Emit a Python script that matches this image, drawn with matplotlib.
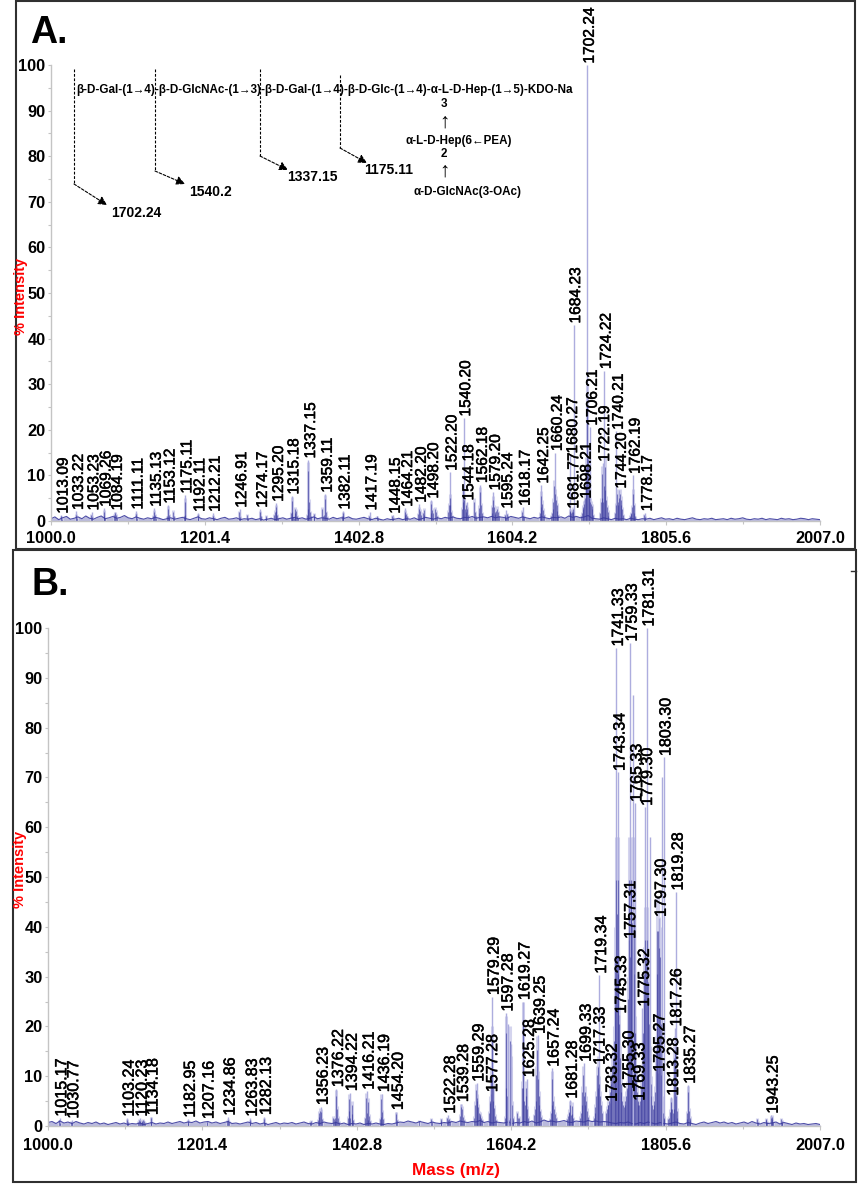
import matplotlib
matplotlib.use("Agg")
import matplotlib.pyplot as plt
import matplotlib.patheffects as pe
import numpy as np
from matplotlib.patches import Rectangle

plt.rcParams['font.family'] = ['Liberation Sans', 'DejaVu Sans']

W, H = 867, 1200

x_ticks = [1000.0, 1201.4, 1402.8, 1604.2, 1805.6, 2007.0]
y_ticks = [0, 10, 20, 30, 40, 50, 60, 70, 80, 90, 100]

# panel A: labelled peaks
a_mass = [1013.09, 1033.22, 1053.23, 1069.26, 1084.19, 1111.11, 1135.13, 1153.12, 1175.11, 1192.11,
          1212.21, 1246.91, 1274.17, 1295.20, 1315.18, 1337.15, 1359.11, 1382.11, 1417.19, 1448.15,
          1464.21, 1482.20, 1498.20, 1522.20, 1540.20, 1544.18, 1562.18, 1579.20, 1595.24, 1618.17,
          1642.25, 1660.24, 1680.27, 1681.77, 1684.23, 1698.21, 1702.24, 1706.21, 1722.19, 1724.22,
          1740.21, 1744.20, 1762.19, 1778.17]
a_height = [1.3, 2.1, 2.0, 2.8, 2.0, 2.2, 2.8, 3.5, 5.7, 1.7,
            1.7, 2.6, 2.6, 3.9, 5.5, 13.4, 5.9, 2.2, 2.0, 1.3,
            2.8, 3.7, 4.6, 10.7, 22.6, 4.2, 8.0, 6.4, 2.4, 3.0,
            7.9, 15.0, 14.5, 2.4, 43.0, 4.6, 100.0, 20.6, 12.7, 33.0,
            19.7, 6.8, 10.0, 1.8]

# panel A: unresolved signal around the peaks, first mass and heights at 1 m/z steps
a_cluster_start = [1013, 1033, 1053, 1069, 1083, 1111, 1134, 1152, 1160, 1174, 1192, 1212, 1246, 1257,
                   1274, 1281, 1292, 1314, 1319, 1335, 1344, 1355, 1358, 1381, 1417, 1427, 1447, 1463,
                   1481, 1487, 1497, 1503, 1520, 1538, 1554, 1560, 1577, 1594, 1617, 1640, 1655, 1679,
                   1694, 1719, 1739, 1758, 1777]
a_cluster_height = [[1.2, .6], [1.6, .8], [1.6, 1.0], [2.4, 1.2, .7], [1.5, 2, 1.6, .9], [1.8, .9],
                    [1.4, 2.4, 1.6, .8], [1.2, 3.2, 1.6, .8], [2.4, 1.2], [1.2, 5, 1.5], [1.5, .8],
                    [1.4, .8], [2.2, 1], [1.6, .7], [2.2, 1.2], [1.4, .7], [1.6, 2.4, 3.6, 2.6, 1.6, .8],
                    [2, 5.2, 2.4, 1, .8], [2, 3, 2.6, 1.4, .8], [1.5, 3, 13, 4.8, 2.2, 1.2], [1.8, 1],
                    [3, 1.4], [1.6, 5.6, 2.2, 1], [1.2, 2, 1.2], [1.4, .8], [1.2, .7], [1.3, .8],
                    [1.6, 2.4, 1.8, 1.2], [1.8, 3.0, 2.6, 1.6], [2, 2.8, 1.6], [2, 4.4, 2.8, 2],
                    [3, 2.4, 1.4], [2.4, 4, 6, 4, 2.4, 1.4], [3, 5, 8, 5.5, 3, 2.2, 4, 3, 1.6],
                    [5, 2.2, 1.2], [2, 3.4, 7.5, 4, 2, 1.2], [2, 3.5, 5.5, 3.5, 2.4, 1.8, 2.6, 3.2, 2.2, 1.2],
                    [1.6, 1, .8, 1.8, 1.2], [2.4, 1.4, 1], [2, 3.6, 6.5, 4.5, 2.8, 1.6],
                    [1.4, 2, 3, 5, 9, 7, 5.5, 4, 2.6, 1.6], [2.2, 2.6, 2.0, 2.4, 3.0, 2.2, 1.4],
                    [1.4, 2, 3, 3.6, 4.4, 6, 9, 14, 30, 16, 9, 6, 5, 4.4, 3.8, 3, 1.6],
                    [2, 5, 12, 6, 5, 9, 14, 8, 5.5, 3.6, 2.4, 1.4], [2, 4, 7, 5, 4, 6, 7, 5.5, 4.2, 3, 1.6],
                    [1.4, 2, 1.8, 3.5, 7, 4, 2, 1.2], [1.6, 1]]

# panel A: baseline, evenly spread over the mass range
a_noise = [.5, .9, .3, .7, 1.0, .4, .6, .9, .5, 1.1, .6, .4, .8, 1.1, .5, .7, 1.0, .6, .8, 1.2,
           .7, .5, .9, .6, .4, .7, .5, .8, .6, .3, .5, .7, .4, .6, .8, .5, .3, .6, .9, .5,
           .4, .7, .5, .3, .6, .8, .4, .5, .7, .3, .5, .4, .6, .3, .5, .2, .4, .6, .3, .5,
           .7, .4, .6, .8, .5, .7, .4, .6, .9, .5, .7, .6, .4, .8, .5, .7, .6, .9, .5, .4,
           .6, .8, .5, .3, .6, .4, .2, .5, .3, .4, .6, .3, .5, .4, .7, .3, .5, .8, .6, .4,
           .7, .5, .8, .6, .9, .6, .5, .8, .7, 1.0, .6, .8, .9, .7, 1.0, .7, .9, .8, .6, 1.0,
           .8, .6, .9, .7, .5, .8, .6, .9, .7, .5, .8, .7, .9, .6, 1.1, .8, 1.0, .7, .9, 1.2,
           .6, .5, .4, .7, .5, .3, .6, .4, .5, .3, .6, .4, .3, .5, .4, .6, .3, .5, .7, .4,
           .5, .3, .6, .4, .3, .5, .7, .4, .3, .5, .4, .6, .3, .4, .5, .3, .6, .4, .5, .7,
           .4, .3, .5, .4, .6, .3, .5, .4, .3, .6, .4, .5, .3, .4, .6, .5, .3, .5, .4, .3]

# panel B: labelled peaks
b_mass = [1015.17, 1030.77, 1103.24, 1120.23, 1134.18, 1182.95, 1207.16, 1234.86, 1263.83, 1282.13,
          1356.23, 1376.22, 1394.22, 1416.21, 1436.19, 1454.20, 1522.28, 1539.28, 1559.29, 1577.28,
          1579.29, 1597.28, 1619.27, 1625.28, 1639.25, 1657.24, 1681.28, 1699.33, 1717.33, 1719.34,
          1733.32, 1741.33, 1743.34, 1745.33, 1755.30, 1757.31, 1759.33, 1765.33, 1769.33, 1775.32,
          1779.30, 1781.31, 1795.27, 1797.30, 1803.30, 1813.28, 1817.26, 1819.28, 1835.27, 1943.25]
b_height = [1.6, 1.2, 1.6, 1.6, 1.9, 1.4, 1.1, 1.8, 1.6, 1.9,
            3.9, 7.5, 6.7, 7.0, 6.5, 2.9, 2.2, 4.5, 8.6, 6.5,
            26.0, 22.7, 25.0, 9.5, 18.2, 11.6, 5.2, 12.6, 12.0, 30.3,
            4.6, 96.0, 71.0, 22.3, 7.2, 37.3, 97.0, 64.8, 4.8, 23.7,
            64.0, 100.0, 10.6, 41.7, 74.0, 5.8, 19.7, 47.0, 8.2, 2.2]

# panel B: tall peaks without a label
b_extra_mass = [1600, 1604, 1763, 1785, 1801]
b_extra_height = [20.5, 16.5, 86.5, 58.0, 70.0]

b_cluster_start = [1015, 1030, 1103, 1118, 1134, 1182, 1207, 1234, 1263, 1282, 1342, 1352, 1372, 1375,
                   1391, 1396, 1414, 1418, 1433, 1454, 1484, 1500, 1512, 1521, 1538, 1556, 1575, 1596,
                   1612, 1618, 1634, 1655, 1677, 1694, 1712, 1728, 1752, 1775, 1809, 1812, 1833, 1925,
                   1936, 1943, 1956]
b_cluster_height = [[1.3, .8], [1, .7], [1.4, .9], [1, 1.5, 1.2, .8, 1.0, 1.2, 1.4, 1.1, .8], [1.8, 1],
                    [1.2, .8], [.9], [1.2, 1.5, 1], [1.3, .8], [1.6, .8], [1, 1.2],
                    [1.4, 2.2, 3.0, 3.6, 3.4, 1.6], [2, 1.6, 1.2], [2, 7.2, 4, 2, 1], [2, 6.4, 3.6, 1.8],
                    [5, 2.8, 1.4], [1.8, 6.6, 3, 1.4], [5.6, 2.4, 1.2], [1.6, 2.2, 6.4, 3.2, 1.6],
                    [2.8, 1.4], [1.2], [1.6, 1], [1.6, 1.2], [1.8, 1.4, 1.6, 1.2], [2.4, 4.4, 4, 2.2, 1.4],
                    [2, 5, 8.4, 6.5, 6, 4.5, 3, 2.4, 2.8, 2, 1.4], [3, 6, 5.5, 12, 20, 9, 6, 4.2, 2.4, 1.4],
                    [2, 9, 22, 7, 2.2, 1.4, 2, 20, 14, 5, 2, 1.4], [3, 1.8, 2],
                    [9, 25, 9, 6, 5, 9, 7, 4, 2], [2.5, 4, 6, 12, 18, 11, 7, 5, 3.5, 2.2],
                    [1.6, 3, 5, 11, 6, 4, 2.8, 1.8], [1.6, 2.4, 3.4, 3, 5, 2.6, 4.8, 2.8, 1.8],
                    [2, 3, 5, 8, 12, 7, 5, 8, 6, 3.6, 2.2], [2, 3, 4.5, 7, 12, 9, 14, 10, 7, 5, 3],
                    [3, 4, 5, 5, 6, 8, 10, 12, 14, 16, 20, 28, 40, 58, 50, 58, 36, 24, 16, 10, 8, 6, 5, 4.5],
                    [5, 6, 7, 9, 14, 30, 58, 40, 56, 58, 48, 58, 50, 36, 22, 12, 8, 6, 5, 5, 6, 7, 9],
                    [12, 22, 30, 36, 44, 40, 44, 30, 34, 24, 16, 10, 7, 5, 4, 5, 6, 8, 18, 36, 46, 46, 42,
                     40, 24, 12, 6, 3, 2, 1.6],
                    [1.6, 2, 3.4], [4, 5.6, 4, 3, 4, 16, 18, 7, 3.6, 2], [1.6, 3, 8, 3.6, 2, 1.4], [1.6, 1],
                    [1.4, 1.6, 1], [2, 2.2, 1.6, 1], [1.6, 1.2, .8]]

b_noise = [.7, .9, .5, 1.0, .6, .8, .5, .9, .6, .4, .7, .5, .8, .4, .6, .3, .5, .7, .4, .6,
           .3, .5, .4, .6, .3, .5, .7, .4, .6, .5, .8, .5, .7, .9, .6, .8, .7, 1.0, .6, .8,
           .9, .6, .8, .5, .7, .9, .5, .6, .4, .6, .8, .5, .7, .4, .6, .3, .5, .7, .4, .6,
           .5, .7, .4, .6, .8, .5, .4, .7, .5, .8, .6, .5, .7, .4, .6, .3, .5, .4, .6, .3,
           .5, .4, .6, .4, .3, .5, .4, .6, .8, .7, 1.0, .8, .6, .9, .7, .5, .8, .6, .5, .7,
           .6, .9, .7, 1.0, .8, .7, .9, .8, 1.1, .7, .9, .6, .8, .7, .6, .8, .5, .7, .6, .9,
           .7, 1.0, .6, .8, 1.2, .9, 1.0, .8, .9, 1.1, .8, .7, 1.0, .9, .8, 1.1, .9, 1.0, .8, .9,
           .8, .6, .5, .7, .6, .8, .5, .4, .7, .5, .8, .6, .4, .7, .5, .4, .6, .8, .5, .4,
           .7, .5, .3, .6, .8, .5, .7, .9, .6, .8, .5, .7, .4, .6, .8, .5, .9, .6, .4, .7,
           .5, .6, .8, .4, .7, .5, .3, .6, .4, .5, .3, .4, .5, .3]

DARK = '#3b3b9e'
LIGHT = '#adadde'
HALO = '#d4d4ee'
GREY = '#c4c4c4'
heavy = [pe.withStroke(linewidth=0.35, foreground='black')]


def px_axes(fig, left, right, top, bottom):
    return fig.add_axes([left / W, 1 - bottom / H, (right - left) / W, (bottom - top) / H])


def draw_panel(ax, mass, height, starts, clusters, noise, label_size, xpad):
    ax.set_xlim(1000, 2007)
    ax.set_ylim(0, 100)
    ax.patch.set_alpha(0)
    fine_m, fine_h = [], []
    for s, c in zip(starts, clusters):
        for i, h in enumerate(c):
            fine_m.append(s + i)
            fine_h.append(h)
    ax.vlines(fine_m, 0, fine_h, color=HALO, lw=2.2)
    ax.vlines(mass, 0, height, color=LIGHT, lw=1.0)
    ax.vlines(fine_m, 0, np.array(fine_h) * 0.85, color=DARK, lw=0.8, alpha=0.6)
    noise_m = np.linspace(1000, 2007, len(noise))
    ax.fill_between(noise_m, 0, noise, color=DARK, alpha=0.35, lw=0)
    ax.plot(noise_m, noise, color=DARK, lw=0.8, alpha=0.9)
    for m, h in zip(mass, height):
        ax.annotate(f'{m:.2f}', (m, h), xytext=(1.5, 1), textcoords='offset points', rotation=90,
                    ha='center', va='bottom', fontsize=label_size, color='black', annotation_clip=False,
                    path_effects=heavy)
    for side in ['top', 'right']:
        ax.spines[side].set_visible(False)
    for side in ['left', 'bottom']:
        ax.spines[side].set_color(GREY)
        ax.spines[side].set_linewidth(1.0)
    ax.set_xticks(x_ticks)
    ax.set_xticklabels([f'{t:.1f}' for t in x_ticks], fontweight='bold', fontsize=11.8)
    ax.set_yticks(y_ticks)
    ax.set_yticklabels([str(t) for t in y_ticks], fontweight='bold', fontsize=11.8)
    ax.set_xticks(np.array(x_ticks[:-1]) + 100.7, minor=True)
    ax.set_yticks(np.array(y_ticks[:-1]) + 5, minor=True)
    ax.tick_params(axis='x', which='major', length=3, width=0.8, color=GREY, pad=xpad)
    ax.tick_params(axis='y', which='major', length=2.5, width=0.8, color=GREY, pad=1.5)
    ax.tick_params(which='minor', length=2, width=0.8, color=GREY)


fig = plt.figure(figsize=(W / 100, H / 100), dpi=100)

ax_a = px_axes(fig, 51, 820, 65, 521)
draw_panel(ax_a, a_mass, a_height, a_cluster_start, a_cluster_height, a_noise, 11.2, 4.5)

ax_b = px_axes(fig, 48, 820, 628, 1126)
draw_panel(ax_b, b_mass, b_height, b_cluster_start, b_cluster_height, b_noise, 11.6, 6)
ax_b.vlines(b_extra_mass, 0, b_extra_height, color=LIGHT, lw=1.0)

# overlay in pixel coordinates for frames, letters and the structure drawing
ov = fig.add_axes([0, 0, 1, 1])
ov.set_xlim(0, W)
ov.set_ylim(H, 0)
ov.axis('off')
ov.patch.set_alpha(0)

ov.add_patch(Rectangle((15.5, 1), 839.5, 548, fill=False, ec='#303030', lw=1.5))
ov.add_patch(Rectangle((13, 550), 843, 632, fill=False, ec='#303030', lw=1.5))
ov.plot([851, 856], [571, 571], color='#303030', lw=1)

ov.text(30, 43, 'A.', fontsize=27, fontweight='bold', ha='left', va='baseline')
ov.text(32, 595, 'B.', fontsize=27, fontweight='bold', ha='left', va='baseline')

ov.text(21, 296, '% Intensity', color='red', fontsize=10.5, fontweight='bold', rotation=90,
        ha='center', va='center')
ov.text(20, 869, '% Intensity', color='red', fontsize=10.5, fontweight='bold', rotation=90,
        ha='center', va='center')
ov.text(456, 1170, 'Mass (m/z)', color='red', fontsize=12.4, fontweight='bold', ha='center', va='center')

ov.text(76, 90, 'β-D-Gal-(1→4)-β-D-GlcNAc-(1→3)-β-D-Gal-(1→4)-β-D-Glc-(1→4)-α-L-D-Hep-(1→5)-KDO-Na',
        fontsize=8.4, fontweight='bold', ha='left', va='center')
for x, y, s in [(444, 104, '3'), (444, 122, '↑'), (459, 141, 'α-L-D-Hep(6←PEA)'),
                (444, 154, '2'), (444, 171, '↑'), (467, 192, 'α-D-GlcNAc(3-OAc)')]:
    ov.text(x, y, s, fontsize=8.4 if s[0] != '↑' else 15, fontweight='bold', ha='center', va='center')

frag_x = [74, 155, 260, 340]
frag_top = [69, 69, 69, 75]
frag_bend = [184, 171, 156, 148]
frag_end = [(107, 205), (185, 184), (288, 170), (367, 163)]
frag_lab = [('1702.24', 136, 213), ('1540.2', 210, 192), ('1337.15', 312, 177), ('1175.11', 389, 170)]
for x, t, b, e, lab in zip(frag_x, frag_top, frag_bend, frag_end, frag_lab):
    ov.plot([x, x], [t, b], color='black', lw=0.8, ls=(0, (2.5, 1.5)))
    ov.annotate('', xy=e, xytext=(x, b),
                arrowprops=dict(arrowstyle='-|>', color='black', lw=0.8, ls=(0, (2.5, 1.5)),
                                shrinkA=0, shrinkB=0, mutation_scale=13))
    ov.text(lab[1], lab[2], lab[0], fontsize=10, fontweight='bold', ha='center', va='center')

fig.savefig('out.png', dpi=100)
